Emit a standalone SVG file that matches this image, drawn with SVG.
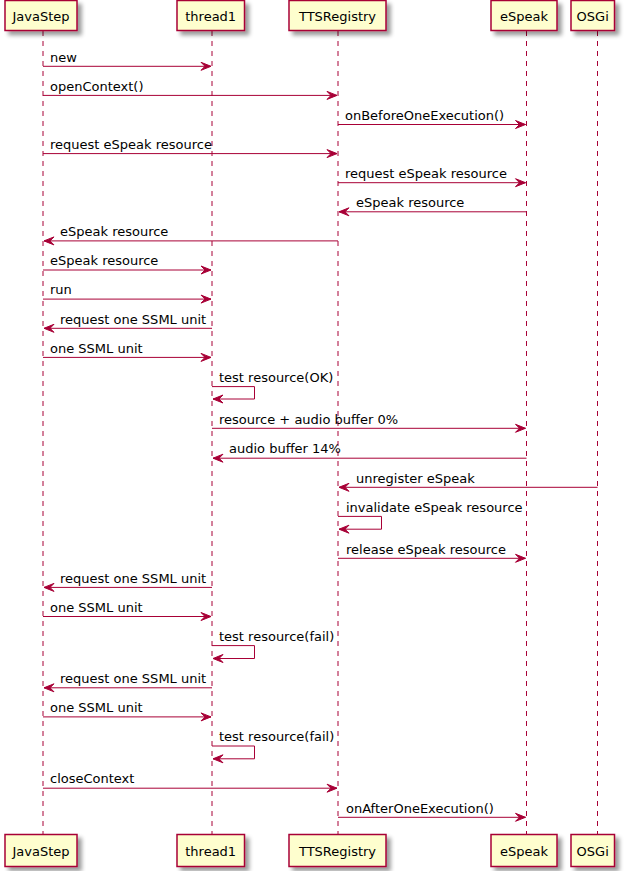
<svg xmlns="http://www.w3.org/2000/svg" width="628" height="871" viewBox="0 0 628 871">
<style>
.box{fill:#FEFECE;stroke:#A80036;stroke-width:1.5;filter:url(#sh)}
.life{stroke:#A80036;stroke-width:1;stroke-dasharray:5,5;fill:none}
.pt{font-family:"DejaVu Sans","Liberation Sans",sans-serif;font-size:13px;fill:#000}
.msg{stroke:#A80036;stroke-width:1;fill:none;marker-end:url(#ah)}
.lbl{font-family:"DejaVu Sans","Liberation Sans",sans-serif;font-size:13px;fill:#000}
</style>
<defs>
<filter id="sh" x="-20%" y="-20%" width="150%" height="160%">
<feGaussianBlur in="SourceAlpha" stdDeviation="2"/>
<feOffset dx="4" dy="4" result="b"/>
<feComponentTransfer><feFuncA type="linear" slope="0.4"/></feComponentTransfer>
<feMerge><feMergeNode/><feMergeNode in="SourceGraphic"/></feMerge>
</filter>
<marker id="ah" markerUnits="userSpaceOnUse" markerWidth="11" markerHeight="9" refX="10" refY="4" orient="auto" overflow="visible">
<path d="M0,0 L10,4 L0,8 L4,4 Z" fill="#A80036" stroke="#A80036" stroke-width="1"/>
</marker>
</defs>
<rect width="628" height="871" fill="#FFFFFF"/>
<g id="lifelines">
<line class="life" x1="43" y1="31" x2="43" y2="834"/>
<line class="life" x1="212" y1="31" x2="212" y2="834"/>
<line class="life" x1="338" y1="31" x2="338" y2="834"/>
<line class="life" x1="526.5" y1="31" x2="526.5" y2="834"/>
<line class="life" x1="597.5" y1="31" x2="597.5" y2="834"/>
</g>
<g id="JavaStep">
<rect class="box" x="5" y="0.5" width="72" height="30"/>
<text class="pt" x="41" y="20.5" text-anchor="middle">JavaStep</text>
<rect class="box" x="5" y="834.5" width="72" height="32"/>
<text class="pt" x="41" y="855.5" text-anchor="middle">JavaStep</text>
</g>
<g id="thread1">
<rect class="box" x="177" y="0.5" width="67.5" height="30"/>
<text class="pt" x="210.7" y="20.5" text-anchor="middle">thread1</text>
<rect class="box" x="177" y="834.5" width="67.5" height="32"/>
<text class="pt" x="210.7" y="855.5" text-anchor="middle">thread1</text>
</g>
<g id="TTSRegistry">
<rect class="box" x="289" y="0.5" width="97" height="30"/>
<text class="pt" x="337.5" y="20.5" text-anchor="middle">TTSRegistry</text>
<rect class="box" x="289" y="834.5" width="97" height="32"/>
<text class="pt" x="337.5" y="855.5" text-anchor="middle">TTSRegistry</text>
</g>
<g id="eSpeak">
<rect class="box" x="491" y="0.5" width="66" height="30"/>
<text class="pt" x="524" y="20.5" text-anchor="middle">eSpeak</text>
<rect class="box" x="491" y="834.5" width="66" height="32"/>
<text class="pt" x="524" y="855.5" text-anchor="middle">eSpeak</text>
</g>
<g id="OSGi">
<rect class="box" x="571" y="0.5" width="43.5" height="30"/>
<text class="pt" x="592.7" y="20.5" text-anchor="middle">OSGi</text>
<rect class="box" x="571" y="834.5" width="43.5" height="32"/>
<text class="pt" x="592.7" y="855.5" text-anchor="middle">OSGi</text>
</g>
<g id="connectors">
<line class="msg" x1="43" y1="66.3" x2="211" y2="66.3"/><text class="lbl" x="50" y="61.5">new</text>
<line class="msg" x1="43" y1="95.4" x2="337" y2="95.4"/><text class="lbl" x="50" y="90.6">openContext()</text>
<line class="msg" x1="338" y1="124.5" x2="525.5" y2="124.5"/><text class="lbl" x="345" y="119.7">onBeforeOneExecution()</text>
<line class="msg" x1="43" y1="153.6" x2="337" y2="153.6"/><text class="lbl" x="50" y="148.8">request eSpeak resource</text>
<line class="msg" x1="338" y1="182.7" x2="525.5" y2="182.7"/><text class="lbl" x="345" y="177.9">request eSpeak resource</text>
<line class="msg" x1="526.5" y1="211.8" x2="339" y2="211.8"/><text class="lbl" x="356" y="207">eSpeak resource</text>
<line class="msg" x1="338" y1="240.9" x2="44" y2="240.9"/><text class="lbl" x="60" y="236.1">eSpeak resource</text>
<line class="msg" x1="43" y1="270" x2="211" y2="270"/><text class="lbl" x="50" y="265.2">eSpeak resource</text>
<line class="msg" x1="43" y1="299.1" x2="211" y2="299.1"/><text class="lbl" x="50" y="294.3">run</text>
<line class="msg" x1="212" y1="328.3" x2="44" y2="328.3"/><text class="lbl" x="60" y="323.5">request one SSML unit</text>
<line class="msg" x1="43" y1="357.4" x2="211" y2="357.4"/><text class="lbl" x="50" y="352.6">one SSML unit</text>
<path class="msg" d="M212,386.6 H254.5 V399 H213"/><text class="lbl" x="219" y="381.8">test resource(OK)</text>
<line class="msg" x1="212" y1="428.3" x2="525.5" y2="428.3"/><text class="lbl" x="219" y="423.5">resource + audio buffer 0%</text>
<line class="msg" x1="526.5" y1="458.2" x2="213" y2="458.2"/><text class="lbl" x="229" y="453.4">audio buffer 14%</text>
<line class="msg" x1="597.5" y1="487.3" x2="339" y2="487.3"/><text class="lbl" x="356" y="482.5">unregister eSpeak</text>
<path class="msg" d="M338,516.4 H381.5 V529.2 H339"/><text class="lbl" x="346" y="511.6">invalidate eSpeak resource</text>
<line class="msg" x1="338" y1="558.3" x2="525.5" y2="558.3"/><text class="lbl" x="346" y="553.5">release eSpeak resource</text>
<line class="msg" x1="212" y1="587.4" x2="44" y2="587.4"/><text class="lbl" x="60" y="582.6">request one SSML unit</text>
<line class="msg" x1="43" y1="616.5" x2="211" y2="616.5"/><text class="lbl" x="50" y="611.7">one SSML unit</text>
<path class="msg" d="M212,645.6 H254.5 V658.5 H213"/><text class="lbl" x="219" y="640.8">test resource(fail)</text>
<line class="msg" x1="212" y1="687.8" x2="44" y2="687.8"/><text class="lbl" x="60" y="683">request one SSML unit</text>
<line class="msg" x1="43" y1="716.9" x2="211" y2="716.9"/><text class="lbl" x="50" y="712.1">one SSML unit</text>
<path class="msg" d="M212,746 H254.5 V758.8 H213"/><text class="lbl" x="219" y="741.2">test resource(fail)</text>
<line class="msg" x1="43" y1="788.2" x2="337" y2="788.2"/><text class="lbl" x="50" y="783.4">closeContext</text>
<line class="msg" x1="338" y1="817.3" x2="525.5" y2="817.3"/><text class="lbl" x="346" y="812.5">onAfterOneExecution()</text>
</g>
</svg>
